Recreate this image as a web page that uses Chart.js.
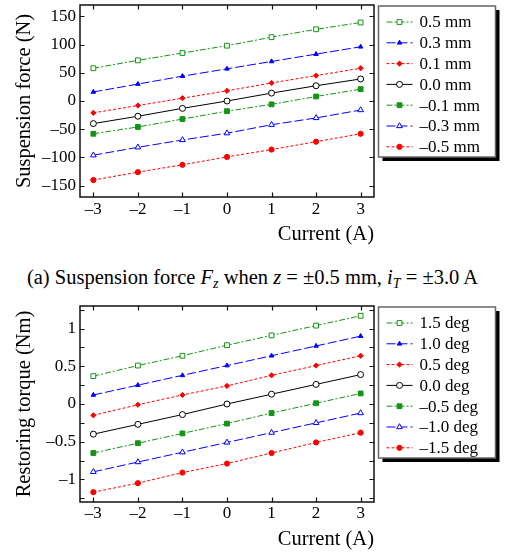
<!DOCTYPE html>
<html>
<head>
<meta charset="utf-8">
<script src="https://cdn.jsdelivr.net/npm/chart.js@4.4.1/dist/chart.umd.min.js"></script>
<style>
  body { margin: 0; background: #fff; width: 505px; height: 559px; position: relative; overflow: hidden;
         font-family: "Liberation Serif", "Times New Roman", serif; }
  canvas { position: absolute; left: 0; }
  #forceChart { top: 0; }
  #torqueChart { top: 300px; }
  .caption { position: absolute; left: 0; width: 505px; top: 265px; text-align: center;
             font-size: 20.5px; line-height: 24px; color: #000; white-space: nowrap; }
  .caption sub { font-size: 14px; vertical-align: -4px; line-height: 0; }
</style>
</head>
<body>
<canvas id="forceChart" width="505" height="250"></canvas>
<div class="caption">(a) Suspension force <i>F<sub>z</sub></i> when <i>z</i> = ±0.5 mm, <i>i<sub>T</sub></i> = ±3.0 A</div>
<canvas id="torqueChart" width="505" height="259"></canvas>
<script>
// --- Data ---
const currents = [-3, -2, -1, 0, 1, 2, 3];

const forceLabels = ['0.5 mm', '0.3 mm', '0.1 mm', '0.0 mm', '–0.1 mm', '–0.3 mm', '–0.5 mm'];
const forceP05 = [58, 72, 85, 98, 113, 127, 139];
const forceP03 = [16, 30, 44, 57, 70, 83, 96];
const forceP01 = [-21, -8, 5, 18, 32, 45, 58];
const force00  = [-40, -27, -13, 0, 14, 27, 39];
const forceM01 = [-58, -46, -32, -18, -6, 8, 21];
const forceM03 = [-96, -82, -69, -57, -42, -30, -16];
const forceM05 = [-140, -126, -113, -99, -86, -72, -58];
const forceTicks = [-150, -100, -50, 0, 50, 100, 150];

const torqueLabels = ['1.5 deg', '1.0 deg', '0.5 deg', '0.0 deg', '–0.5 deg', '–1.0 deg', '–1.5 deg'];
const torqueP15 = [0.37, 0.51, 0.64, 0.78, 0.91, 1.04, 1.17];
const torqueP10 = [0.12, 0.25, 0.38, 0.51, 0.64, 0.77, 0.90];
const torqueP05 = [-0.15, -0.01, 0.12, 0.24, 0.38, 0.51, 0.64];
const torque00  = [-0.40, -0.27, -0.14, 0, 0.13, 0.26, 0.39];
const torqueM05 = [-0.65, -0.52, -0.39, -0.26, -0.12, 0.01, 0.14];
const torqueM10 = [-0.90, -0.77, -0.64, -0.51, -0.38, -0.25, -0.12];
const torqueM15 = [-1.17, -1.05, -0.91, -0.79, -0.65, -0.51, -0.38];

// --- Styles (one per series, same order in both charts) ---
const GREEN = '#149414', BLUE = '#0000ff', RED = '#ff0000', BLACK = '#000000';
const seriesStyles = [
    { color: GREEN, dash: [6, 2, 2, 2], point: 'rect',     radius: 3.4, fill: '#ffffff' },
    { color: BLUE,  dash: [9, 3],       point: 'triangle', radius: 2.6, fill: BLUE },
    { color: RED,   dash: [3, 2],       point: 'rectRot',  radius: 2.6, fill: RED },
    { color: BLACK, dash: [],           point: 'circle',   radius: 3.0, fill: '#ffffff' },
    { color: GREEN, dash: [6, 2, 2, 2], point: 'rect',     radius: 3.4, fill: GREEN },
    { color: BLUE,  dash: [9, 3],       point: 'triangle', radius: 3.3, fill: '#ffffff' },
    { color: RED,   dash: [3, 2],       point: 'circle',   radius: 2.6, fill: RED }
];

const serif = '"Liberation Serif", "Times New Roman", serif';

function fmt(v) {
    const r = Math.round(v * 100) / 100;
    return (r < 0 ? '–' : '') + Math.abs(r);
}

// frame round the plot and inward tick marks on all four sides
const framePlugin = {
    id: 'frame',
    afterDatasetsDraw(chart) {
        const { ctx, chartArea: a, scales: { x, y } } = chart;
        const len = 4.5;
        ctx.save();
        ctx.setLineDash([]);
        ctx.strokeStyle = '#111';
        ctx.lineWidth = 1.2;
        ctx.beginPath();
        x.ticks.forEach(t => {
            const px = Math.round(x.getPixelForValue(t.value)) + 0.5;
            ctx.moveTo(px, a.bottom); ctx.lineTo(px, a.bottom - len);
            ctx.moveTo(px, a.top);    ctx.lineTo(px, a.top + len);
        });
        y.ticks.forEach(t => {
            const py = Math.round(y.getPixelForValue(t.value)) + 0.5;
            ctx.moveTo(a.left, py);  ctx.lineTo(a.left + len, py);
            ctx.moveTo(a.right, py); ctx.lineTo(a.right - len, py);
        });
        ctx.stroke();
        ctx.lineWidth = 1.5;
        ctx.strokeRect(a.left, a.top, a.right - a.left, a.bottom - a.top);
        ctx.restore();
    }
};

// boxed legend with a drop shadow, right of the plot
const boxLegendPlugin = {
    id: 'boxLegend',
    afterDraw(chart) {
        const { ctx, chartArea: a } = chart;
        const bx = a.right + 4.5, by = a.top + 1, bw = 117, bh = 151;
        ctx.save();
        ctx.fillStyle = '#000';
        ctx.fillRect(bx + 4, by + 4, bw, bh);
        ctx.fillStyle = '#fff';
        ctx.fillRect(bx, by, bw, bh);
        ctx.strokeStyle = '#666';
        ctx.lineWidth = 1.5;
        ctx.strokeRect(bx, by, bw, bh);

        ctx.font = '17px ' + serif;
        ctx.textBaseline = 'middle';
        chart.data.datasets.forEach((ds, i) => {
            const st = seriesStyles[i];
            const ry = by + 16 + i * 20.8;
            ctx.strokeStyle = st.color;
            ctx.lineWidth = 1;
            ctx.setLineDash(st.dash);
            ctx.beginPath();
            ctx.moveTo(bx + 8, ry);
            ctx.lineTo(bx + 34, ry);
            ctx.stroke();
            ctx.setLineDash([]);
            ctx.fillStyle = st.fill;
            Chart.helpers.drawPoint(ctx, { pointStyle: st.point, radius: st.radius, borderWidth: 1, rotation: 0 }, bx + 21, ry);
            ctx.fillStyle = '#000';
            ctx.fillText(ds.label, bx + 41, ry + 1);
        });
        ctx.restore();
    }
};

function makeDatasets(labels, series) {
    return series.map((vals, i) => {
        const st = seriesStyles[i];
        return {
            label: labels[i],
            data: currents.map((c, k) => ({ x: c, y: vals[k] })),
            borderColor: st.color,
            borderWidth: 1,
            borderDash: st.dash,
            pointStyle: st.point,
            pointRadius: st.radius,
            pointBackgroundColor: st.fill,
            pointBorderColor: st.color,
            pointBorderWidth: 1,
            fill: false,
            tension: 0
        };
    });
}

function buildChart(id, opts) {
    const ctx = document.getElementById(id).getContext('2d');
    return new Chart(ctx, {
        type: 'line',
        data: { datasets: makeDatasets(opts.labels, opts.series) },
        options: {
            responsive: false,
            animation: false,
            devicePixelRatio: 1,
            layout: { padding: { left: 0, right: 131, top: opts.padTop, bottom: 0 } },
            plugins: { legend: { display: false }, tooltip: { enabled: false } },
            scales: {
                x: {
                    type: 'linear', min: -3.3, max: 3.3,
                    ticks: { stepSize: 1, includeBounds: false, maxRotation: 0, autoSkip: false, padding: opts.xTickPad,
                             color: '#000', font: { family: serif, size: 17 }, callback: v => fmt(v) },
                    grid: { display: false, drawTicks: false },
                    border: { display: false },
                    title: { display: true, text: 'Current (A)', align: 'end', color: '#000',
                             font: { family: serif, size: 20.5 }, padding: { top: 0, bottom: opts.xTitlePad } },
                    afterFit: s => { s.height = opts.xHeight; s.paddingLeft = 0; s.paddingRight = 0; }
                },
                y: {
                    type: 'linear', min: opts.yMin, max: opts.yMax,
                    ticks: { stepSize: opts.yStep, includeBounds: false, autoSkip: false, padding: 4, color: '#000',
                             font: { family: serif, size: 17 }, callback: opts.yLabel },
                    grid: { display: false, drawTicks: false },
                    border: { display: false },
                    title: { display: true, text: opts.yTitle, color: '#000',
                             font: { family: serif, size: 20.5 }, padding: { top: 12, bottom: 0 } },
                    afterFit: s => { s.width = 80; s.paddingTop = 0; s.paddingBottom = 0; }
                }
            }
        },
        plugins: [framePlugin, boxLegendPlugin]
    });
}

buildChart('forceChart', {
    labels: forceLabels,
    series: [forceP05, forceP03, forceP01, force00, forceM01, forceM03, forceM05],
    yMin: -170, yMax: 170, yStep: 50,
    yLabel: v => forceTicks.includes(v) ? fmt(v) : '',
    yTitle: 'Suspension force (N)',
    padTop: 1, xHeight: 53, xTickPad: 2, xTitlePad: 3
});

buildChart('torqueChart', {
    labels: torqueLabels,
    series: [torqueP15, torqueP10, torqueP05, torque00, torqueM05, torqueM10, torqueM15],
    yMin: -1.3, yMax: 1.3, yStep: 0.25,
    yLabel: v => Math.abs(v * 2 - Math.round(v * 2)) < 1e-6 ? fmt(v) : '',
    yTitle: 'Restoring torque (Nm)',
    padTop: 6, xHeight: 57, xTickPad: 1, xTitlePad: 7
});
</script>
</body>
</html>
